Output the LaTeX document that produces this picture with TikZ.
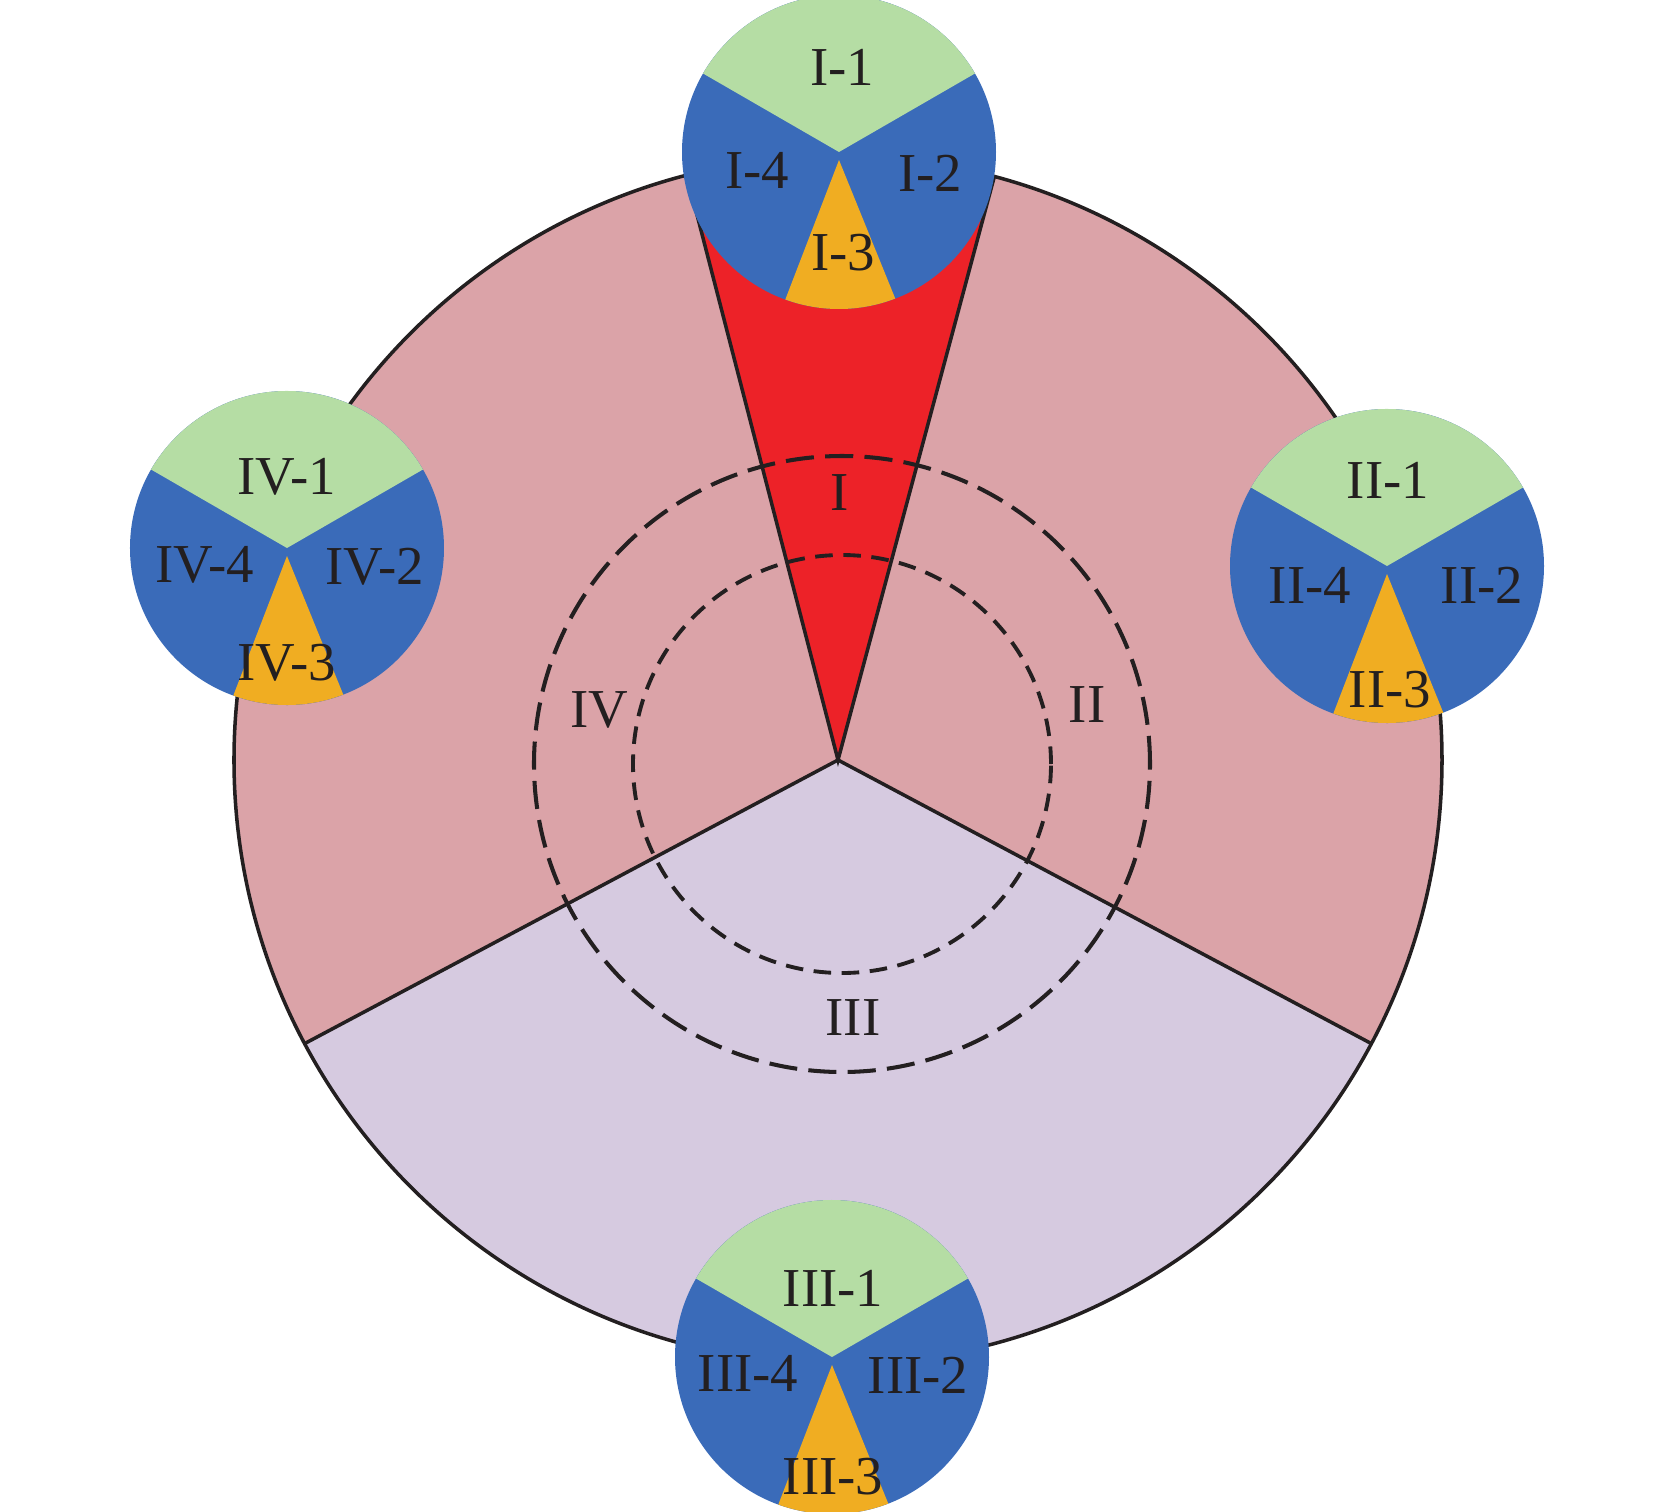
\documentclass[tikz,border=0pt]{standalone}
\usepackage{fontspec}
\setmainfont{Liberation Serif}
\usepackage{tikz}

\definecolor{sectorpink}{HTML}{DBA3A8}
\definecolor{sectorlilac}{HTML}{D6CAE0}
\definecolor{wedgered}{HTML}{ED2228}
\definecolor{piegreen}{HTML}{B5DDA4}
\definecolor{pieblue}{HTML}{3A6BB9}
\definecolor{pieorange}{HTML}{F0AD22}
\definecolor{ink}{HTML}{231F20}

\begin{document}
\begin{tikzpicture}[x=0.01cm, y=0.01cm,
    edge/.style={draw=ink, line width=1pt},
    outerring/.style={draw=ink, line width=1.15pt, dash pattern=on 8pt off 3.2pt},
    innerring/.style={draw=ink, line width=1.1pt, dash pattern=on 5pt off 3pt},
    lab/.style={text=ink, font=\fontsize{15.6}{18}\selectfont, inner sep=0pt}]

  \newcommand\R{604};
  \newcommand\Rs{157};

  \useasboundingbox (-838,-751) rectangle (835,760);

  \coordinate (O) at (0,0);

  % main disc
  \fill[sectorpink] (O) -- (-28:\R) arc (-28:208:\R) -- cycle;
  \fill[sectorlilac] (O) -- (208:\R) arc (208:332:\R) -- cycle;
  \fill[wedgered] (O) -- (75:\R) arc (75:104.5:\R) -- cycle;
  \draw[edge] (O) circle (\R);
  \draw[edge] (208:\R) -- (O) -- (332:\R);
  \draw[edge] (104.5:\R) -- (O) -- (75:\R);

  % dashed rings
  \draw[outerring] (4,-4) circle (308);
  \draw[innerring] (4,-4) circle (209);

  % small pies
  \foreach \n/\x/\y in {I/1/608, II/549/194, III/-6/-597, IV/-551/212} {
    \begin{scope}[shift={(\x,\y)}]
      \coordinate (c\n) at (0,0);
      \fill[pieblue] (c\n) circle (\Rs);
      \fill[piegreen] (c\n) -- (30:\Rs) arc (30:150:\Rs) -- cycle;
      \fill[pieorange] (0,-8) -- (250:\Rs) arc (250:291:\Rs) -- cycle;
    \end{scope}
  }

  % labels
  \node[lab] (I1) at (4,693) {I-1};
  \node[lab] (I2) at (92,587) {I-2};
  \node[lab] (I3) at (5,507) {I-3};
  \node[lab] (I4) at (-81,590) {I-4};

  \node[lab] (II1) at (550,280) {II-1};
  \node[lab] (II2) at (644,175) {II-2};
  \node[lab] (II3) at (552,70) {II-3};
  \node[lab] (II4) at (472,175) {II-4};

  \node[lab] (III1) at (-5,-528) {III-1};
  \node[lab] (III2) at (80,-615) {III-2};
  \node[lab] (III3) at (-5,-717) {III-3};
  \node[lab] (III4) at (-90,-613) {III-4};

  \node[lab] (IV1) at (-551,283) {IV-1};
  \node[lab] (IV2) at (-463,193) {IV-2};
  \node[lab] (IV3) at (-551,97) {IV-3};
  \node[lab] (IV4) at (-633,195) {IV-4};

  \node[lab] (zI) at (2,267) {I};
  \node[lab] (zII) at (249,55) {II};
  \node[lab] (zIII) at (15,-258) {III};
  \node[lab] (zIV) at (-239,50) {IV};

\end{tikzpicture}
\end{document}
